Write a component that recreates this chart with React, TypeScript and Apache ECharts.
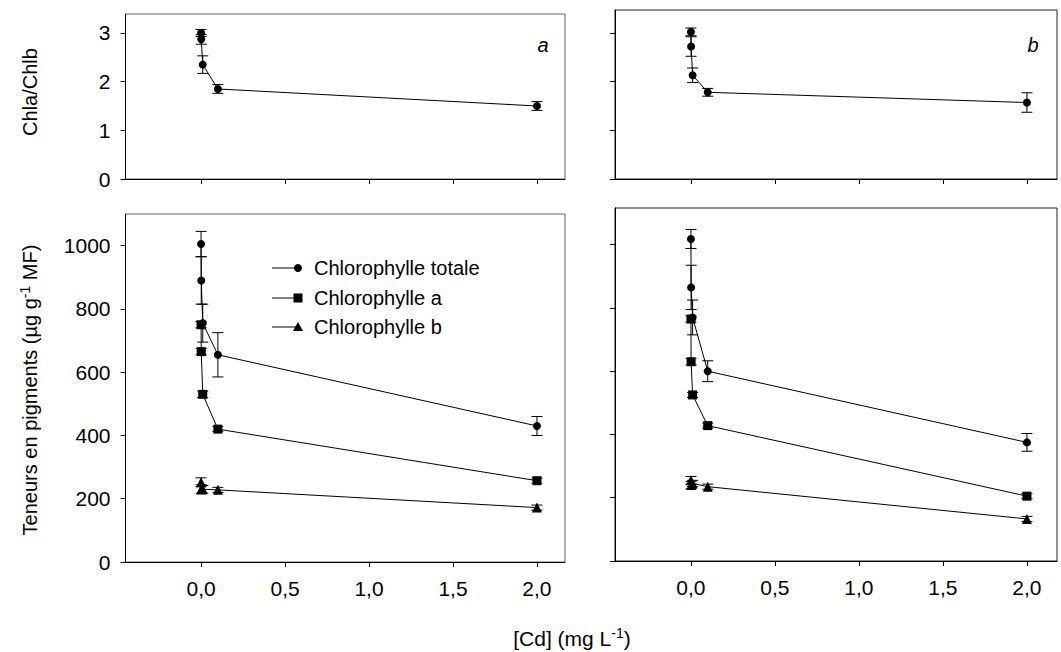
import React, { useEffect, useRef } from "react";
import * as echarts from "echarts";

// Cd concentrations in the nutrient solution (mg L-1)
const concentrations = [0, 0.001, 0.01, 0.1, 2];
const xTicks = [0, 0.5, 1, 1.5, 2];
const ratioTicks = [0, 1, 2, 3];
const pigmentTicks = [0, 200, 400, 600, 800, 1000];

// Panel a
const ratioA = [3.0, 2.87, 2.35, 1.85, 1.5];
const ratioAErr = [0.07, 0.1, 0.18, 0.09, 0.09];
const totalA = [1005, 890, 755, 655, 430];
const totalAErr = [40, 75, 60, 70, 30];
const chlaA = [750, 665, 530, 420, 257];
const chlaAErr = [10, 10, 10, 8, 8];
const chlbA = [252, 230, 230, 228, 172];
const chlbAErr = [14, 14, 12, 8, 8];

// Panel b
const ratioB = [3.02, 2.72, 2.13, 1.78, 1.57];
const ratioBErr = [0.08, 0.2, 0.15, 0.08, 0.2];
const totalB = [1018, 865, 770, 600, 375];
const totalBErr = [30, 70, 55, 33, 28];
const chlaB = [765, 630, 525, 428, 205];
const chlaBErr = [10, 10, 8, 8, 8];
const chlbB = [255, 240, 245, 235, 133];
const chlbBErr = [12, 12, 10, 8, 8];

const legendNames = ["Chlorophylle totale", "Chlorophylle a", "Chlorophylle b"];

const FONT = "'Liberation Sans', Arial, Helvetica, sans-serif";
const FS = 21;
const LEGEND_FS = 20;
const TITLE_FS = 20;

const fmtComma = (v: number) => v.toFixed(1).replace(".", ",");

function errorBars(idx: number, vals: number[], errs: number[]) {
  return {
    type: "custom",
    xAxisIndex: idx,
    yAxisIndex: idx,
    silent: true,
    z: 1,
    data: concentrations.map((c, i) => [c, vals[i] - errs[i], vals[i] + errs[i]]),
    encode: { x: 0, y: [1, 2] },
    renderItem: (params: any, api: any) => {
      const x = api.value(0);
      const lo = api.coord([x, api.value(1)]);
      const hi = api.coord([x, api.value(2)]);
      const w = 5.5;
      const st = { stroke: "#000", lineWidth: 1 };
      return {
        type: "group",
        children: [
          { type: "line", shape: { x1: lo[0], y1: lo[1], x2: hi[0], y2: hi[1] }, style: st },
          { type: "line", shape: { x1: lo[0] - w, y1: lo[1], x2: lo[0] + w, y2: lo[1] }, style: st },
          { type: "line", shape: { x1: hi[0] - w, y1: hi[1], x2: hi[0] + w, y2: hi[1] }, style: st },
        ],
      };
    },
  };
}

function lineSeries(idx: number, name: string, vals: number[], symbol: string, size: number) {
  return {
    type: "line",
    name,
    xAxisIndex: idx,
    yAxisIndex: idx,
    data: concentrations.map((c, i) => [c, vals[i]]),
    symbol,
    symbolSize: size,
    showAllSymbol: true,
    lineStyle: { color: "#000", width: 1 },
    itemStyle: { color: "#000" },
    z: 2,
    silent: true,
  };
}

function xAxis(idx: number, min: number, max: number, showLabels: boolean) {
  return {
    type: "value",
    gridIndex: idx,
    min,
    max,
    splitLine: { show: false },
    axisLine: { show: true, onZero: false, lineStyle: { color: "#000", width: 1 } },
    axisTick: { show: true, inside: false, length: 5, customValues: xTicks, lineStyle: { color: "#000" } },
    axisLabel: {
      show: showLabels,
      customValues: xTicks,
      formatter: (v: number) => fmtComma(v),
      margin: 16,
      color: "#000",
      fontSize: FS,
      fontFamily: FONT,
    },
  };
}

function yAxis(idx: number, max: number, ticks: number[], showLabels: boolean) {
  return {
    type: "value",
    gridIndex: idx,
    min: 0,
    max,
    splitLine: { show: false },
    axisLine: { show: true, onZero: false, lineStyle: { color: "#000", width: 1 } },
    axisTick: { show: true, inside: false, length: 5, customValues: ticks, lineStyle: { color: "#000" } },
    axisLabel: {
      show: showLabels,
      customValues: ticks,
      formatter: (v: number) => String(v),
      margin: 15,
      color: "#000",
      fontSize: FS,
      fontFamily: FONT,
    },
  };
}

function legendItem(y: number, label: string, marker: any) {
  return {
    type: "group",
    children: [
      { type: "line", shape: { x1: 272, y1: y, x2: 298, y2: y }, style: { stroke: "#000", lineWidth: 1 } },
      marker,
      {
        type: "text",
        x: 314,
        y,
        style: { text: label, fill: "#000", font: `${LEGEND_FS}px ${FONT}`, textVerticalAlign: "middle" },
      },
    ],
  };
}

export default function App() {
  const ref = useRef<HTMLDivElement>(null);

  useEffect(() => {
    if (!ref.current) return;
    const chart = echarts.init(ref.current, null, { renderer: "svg" });

    const grids = [
      { left: 125.5, top: 14, width: 439.5, height: 165 },
      { left: 125.5, top: 214, width: 439.5, height: 348 },
      { left: 615, top: 10, width: 442, height: 169 },
      { left: 615, top: 208, width: 442, height: 353 },
    ].map((g, i) => ({
      ...g,
      show: true,
      borderColor: i < 2 ? "#666" : "#222",
      borderWidth: 1,
      backgroundColor: "transparent",
    }));

    const sup = (size: number) => ({
      n: { fontSize: size, fontFamily: FONT, fill: "#000" },
      s: { fontSize: 14, fontFamily: FONT, fill: "#000", padding: [0, 0, 11, 0] },
    });

    const option = {
      animation: false,
      backgroundColor: "#fff",
      grid: grids,
      xAxis: [
        xAxis(0, -0.45, 2.167, false),
        xAxis(1, -0.45, 2.167, true),
        xAxis(2, -0.452, 2.179, false),
        xAxis(3, -0.452, 2.179, true),
      ],
      yAxis: [
        yAxis(0, 3.39, ratioTicks, true),
        yAxis(1, 1100, pigmentTicks, true),
        yAxis(2, 3.47, ratioTicks, false),
        yAxis(3, 1116, pigmentTicks, false),
      ],
      series: [
        errorBars(0, ratioA, ratioAErr),
        lineSeries(0, "Chla/Chlb", ratioA, "circle", 8),
        errorBars(1, totalA, totalAErr),
        errorBars(1, chlaA, chlaAErr),
        errorBars(1, chlbA, chlbAErr),
        lineSeries(1, legendNames[0], totalA, "circle", 8),
        lineSeries(1, legendNames[1], chlaA, "rect", 9),
        lineSeries(1, legendNames[2], chlbA, "triangle", 10),
        errorBars(2, ratioB, ratioBErr),
        lineSeries(2, "Chla/Chlb", ratioB, "circle", 8),
        errorBars(3, totalB, totalBErr),
        errorBars(3, chlaB, chlaBErr),
        errorBars(3, chlbB, chlbBErr),
        lineSeries(3, legendNames[0], totalB, "circle", 8),
        lineSeries(3, legendNames[1], chlaB, "rect", 9),
        lineSeries(3, legendNames[2], chlbB, "triangle", 10),
      ],
      graphic: [
        {
          type: "text",
          x: 30,
          y: 92,
          rotation: Math.PI / 2,
          style: { text: "Chla/Chlb", fill: "#000", font: `${TITLE_FS}px ${FONT}`, textAlign: "center", textVerticalAlign: "middle" },
        },
        {
          type: "text",
          x: 30,
          y: 390,
          rotation: Math.PI / 2,
          style: {
            text: "{n|Teneurs en pigments (µg g}{s|-1}{n| MF)}",
            textAlign: "center",
            textVerticalAlign: "middle",
            rich: sup(TITLE_FS),
          },
        },
        {
          type: "text",
          x: 572,
          y: 638,
          style: {
            text: "{n|[Cd] (mg L}{s|-1}{n|)}",
            textAlign: "center",
            textVerticalAlign: "middle",
            rich: sup(21),
          },
        },
        {
          type: "text",
          x: 543,
          y: 45,
          style: { text: "a", fill: "#000", font: `italic ${LEGEND_FS}px ${FONT}`, textAlign: "center", textVerticalAlign: "middle" },
        },
        {
          type: "text",
          x: 1033,
          y: 45,
          style: { text: "b", fill: "#000", font: `italic ${LEGEND_FS}px ${FONT}`, textAlign: "center", textVerticalAlign: "middle" },
        },
        legendItem(268, legendNames[0], { type: "circle", shape: { cx: 298, cy: 268, r: 4 }, style: { fill: "#000" } }),
        legendItem(298, legendNames[1], { type: "rect", shape: { x: 293.5, y: 293.5, width: 9, height: 9 }, style: { fill: "#000" } }),
        legendItem(327, legendNames[2], {
          type: "polygon",
          shape: { points: [[298, 322], [303, 331], [293, 331]] },
          style: { fill: "#000" },
        }),
      ],
    };

    chart.setOption(option as any);
    return () => chart.dispose();
  }, []);

  return (
    <div
      ref={ref}
      style={{ position: "absolute", left: 0, top: 0, width: 1061, height: 652, background: "#fff" }}
    />
  );
}
